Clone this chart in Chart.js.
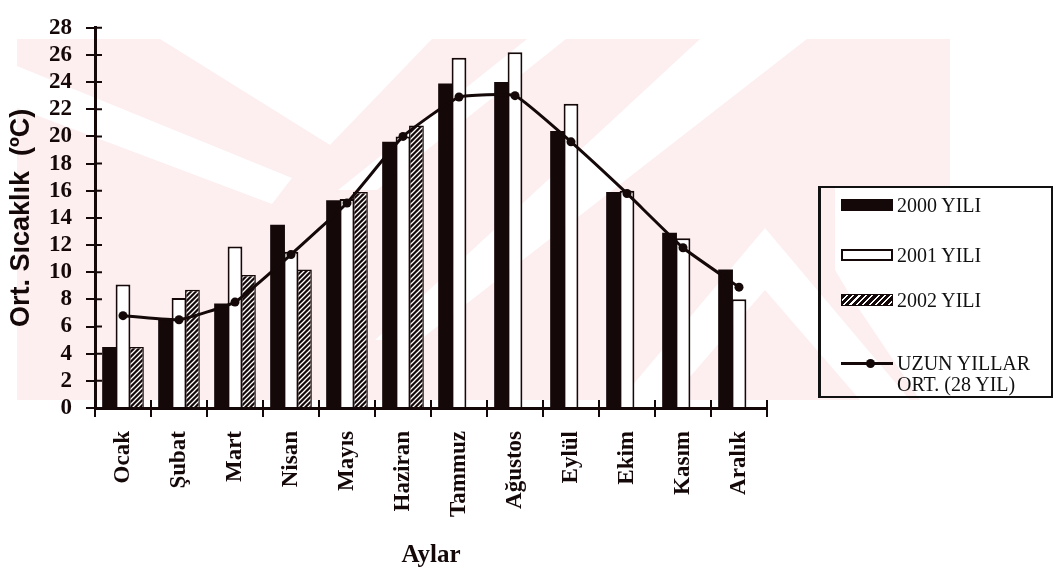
<!DOCTYPE html>
<html>
<head>
<meta charset="utf-8">
<script src="https://cdn.jsdelivr.net/npm/chart.js@4.4.1/dist/chart.umd.min.js"></script>
<style>
  html, body { margin: 0; padding: 0; background: #fff; }
  #wrap { position: relative; width: 1056px; height: 575px; overflow: hidden; }
  #chart { position: absolute; left: 0; top: 0; }
  .legend {
    position: absolute; left: 818px; top: 186px; width: 235px; height: 212px;
    box-sizing: border-box; border: 2px solid #111; border-left-width: 3px;
    font-family: "Liberation Serif", "DejaVu Serif", serif; font-size: 20px; color: #111;
  }
  .legend .sw { position: absolute; left: 20px; width: 52px; height: 12px; box-sizing: border-box; }
  .legend .txt { position: absolute; left: 76px; height: 24px; line-height: 24px; white-space: nowrap; }
  .sw.y2000 { background: #140809; }
  .sw.y2001 { background: #fff; border: 2px solid #140809; }
  .sw.y2002 { background: repeating-linear-gradient(135deg, #140809 0 3px, #fff 3px 4.5px); border: 1px solid #140809; }
  .sw.line { height: 3px; background: #140809; }
  .dot { position: absolute; left: 45px; width: 9px; height: 9px; border-radius: 50%; background: #140809; }
</style>
</head>
<body>
<div id="wrap">
  <canvas id="chart" width="1056" height="575"></canvas>
  <div class="legend">
    <div class="sw y2000" style="top: 11px;"></div>
    <div class="txt" style="top: 5px;">2000 YILI</div>
    <div class="sw y2001" style="top: 61px;"></div>
    <div class="txt" style="top: 55px;">2001 YILI</div>
    <div class="sw y2002" style="top: 106px;"></div>
    <div class="txt" style="top: 100px;">2002 YILI</div>
    <div class="sw line" style="top: 174px;"></div>
    <div class="dot" style="top: 171px;"></div>
    <div class="txt" style="top: 163px;">UZUN YILLAR</div>
    <div class="txt" style="top: 184px;">ORT. (28 YIL)</div>
  </div>
</div>
<script>
// monthly mean temperatures (ºC)
const months = ['Ocak', 'Şubat', 'Mart', 'Nisan', 'Mayıs', 'Haziran',
  'Tammuz', 'Ağustos', 'Eylül', 'Ekim', 'Kasım', 'Aralık'];
const yil2000 = [4.5, 6.6, 7.7, 13.5, 15.3, 19.6, 23.9, 24.0, 20.4, 15.9, 12.9, 10.2];
const yil2001 = [9.1, 8.1, 11.9, 11.5, 15.4, 20.0, 25.8, 26.2, 22.4, 16.0, 12.5, 8.0];
const yil2002 = [4.5, 8.7, 9.8, 10.2, 15.9, 20.8, null, null, null, null, null, null];
const uzunYillar = [6.8, 6.5, 7.8, 11.3, 15.1, 20.0, 22.9, 23.0, 19.6, 15.8, 11.8, 8.9];
const yMin = 0, yMax = 28, yStep = 2;

const ink = '#140809';
const pink = '#fdeef0';
const serif = "'Liberation Serif', 'DejaVu Serif', serif";

// faint scanned watermark behind the plot (decoration only)
const wmBox = [17, 39, 950, 400];
const wmHoles = [
  [[160, 39], [432, 39], [330, 145]],
  [[17, 66], [17, 108], [272, 204], [292, 178]],
  [[527, 39], [566, 39], [377, 190], [338, 190]],
  [[700, 39], [807, 39], [420, 340], [375, 340]],
  [[765, 228], [910, 400], [860, 400], [765, 290], [670, 400], [620, 400]],
  [[835, 186], [950, 186], [950, 400], [920, 400], [853, 300], [835, 270]],
];

const watermark = {
  id: 'watermark',
  beforeDraw(chart) {
    const ctx = chart.ctx;
    const [x0, y0, x1, y1] = wmBox;
    ctx.save();
    ctx.fillStyle = pink;
    ctx.fillRect(x0, y0, x1 - x0, y1 - y0);
    ctx.fillStyle = '#fff';
    wmHoles.forEach((poly) => {
      ctx.beginPath();
      poly.forEach(([x, y], i) => (i ? ctx.lineTo(x, y) : ctx.moveTo(x, y)));
      ctx.closePath();
      ctx.fill();
    });
    ctx.restore();
  },
};

// tick marks cross the axis lines in the original
const crossTicks = {
  id: 'crossTicks',
  afterDraw(chart) {
    const { ctx, chartArea, scales: { x, y } } = chart;
    ctx.save();
    ctx.strokeStyle = ink;
    ctx.lineWidth = 2;
    ctx.beginPath();
    y.ticks.forEach((t, i) => {
      const py = y.getPixelForTick(i);
      ctx.moveTo(chartArea.left, py);
      ctx.lineTo(chartArea.left + 7, py);
    });
    for (let i = 0; i <= months.length; i++) {
      const px = x.getPixelForValue(i - 0.5);
      ctx.moveTo(px, chartArea.bottom);
      ctx.lineTo(px, chartArea.bottom - 8);
    }
    ctx.stroke();
    ctx.restore();
  },
};

const canvas = document.getElementById('chart');

function hatchPattern() {
  const c = document.createElement('canvas');
  c.width = 5; c.height = 5;
  const g = c.getContext('2d');
  g.fillStyle = ink;
  g.fillRect(0, 0, 5, 5);
  g.strokeStyle = '#fff';
  g.lineWidth = 1.3;
  g.beginPath();
  g.moveTo(-1, 6); g.lineTo(6, -1);
  g.moveTo(-1, 1); g.lineTo(1, -1);
  g.moveTo(4, 6); g.lineTo(6, 4);
  g.stroke();
  return canvas.getContext('2d').createPattern(c, 'repeat');
}

const barShape = { categoryPercentage: 0.72, barPercentage: 1.1, order: 1 };

new Chart(canvas, {
  type: 'bar',
  data: {
    labels: months,
    datasets: [
      { label: '2000 YILI', data: yil2000, backgroundColor: ink, borderWidth: 0, ...barShape },
      { label: '2001 YILI', data: yil2001, backgroundColor: '#fff', borderColor: ink, borderWidth: 2, ...barShape },
      { label: '2002 YILI', data: yil2002, backgroundColor: hatchPattern(), borderColor: ink, borderWidth: 1.5, ...barShape },
      {
        type: 'line',
        label: 'UZUN YILLAR ORT. (28 YIL)',
        data: uzunYillar,
        borderColor: ink,
        backgroundColor: ink,
        borderWidth: 3,
        pointRadius: 4.5,
        pointBackgroundColor: ink,
        pointBorderWidth: 0,
        tension: 0.12,
        order: 0,
      },
    ],
  },
  options: {
    responsive: false,
    animation: false,
    layout: { padding: { left: 0, top: 16, right: 289, bottom: 0 } },
    plugins: { legend: { display: false }, tooltip: { enabled: false } },
    scales: {
      x: {
        offset: true,
        grid: { offset: true, drawOnChartArea: false, tickLength: 9, color: ink, lineWidth: 2 },
        border: { color: ink, width: 3 },
        ticks: {
          autoSkip: false, minRotation: 90, maxRotation: 90, padding: 14, color: ink,
          font: { family: serif, size: 23, weight: 'bold' },
        },
        title: {
          display: true, text: 'Aylar', color: ink,
          font: { family: serif, size: 25, weight: 'bold' },
          padding: { top: 0, bottom: 4 },
        },
        afterFit: (s) => { s.height = 167; },
      },
      y: {
        min: yMin,
        max: yMax,
        grid: { drawOnChartArea: false, tickLength: 9, color: ink, lineWidth: 2 },
        border: { color: ink, width: 3 },
        ticks: {
          stepSize: yStep, autoSkip: false, padding: 14, color: ink,
          font: { family: serif, size: 23, weight: 'bold' },
        },
        title: {
          display: true, text: 'Ort. Sıcaklık  (ºC)', color: ink,
          font: { family: "'Liberation Sans', Arial, sans-serif", size: 27, weight: 'bold' },
          padding: { top: 5, bottom: 0 },
        },
        afterFit: (s) => { s.width = 95; },
      },
    },
  },
  plugins: [watermark, crossTicks],
});
</script>
</body>
</html>
